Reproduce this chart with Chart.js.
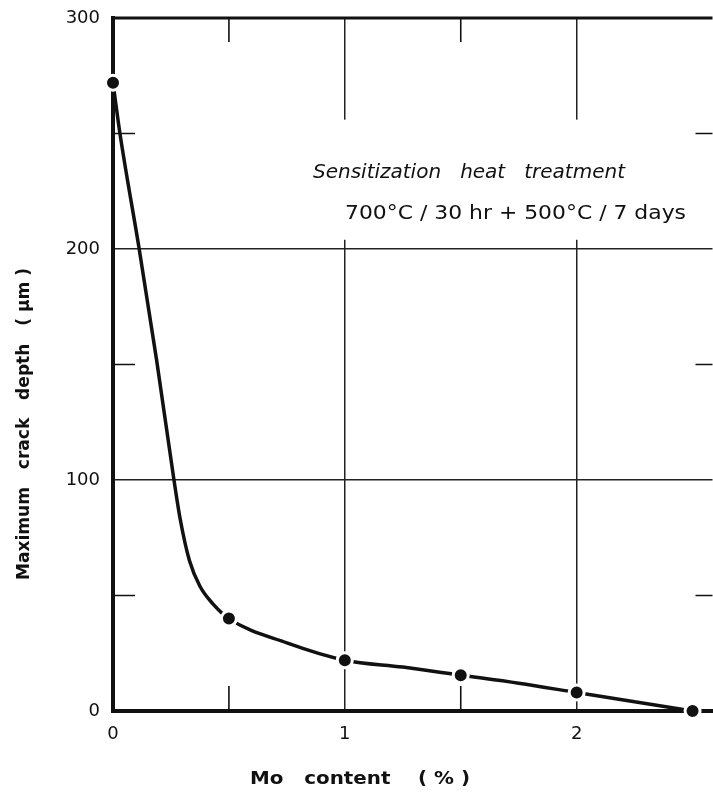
<!DOCTYPE html>
<html>
<head>
<meta charset="utf-8">
<script src="https://cdn.jsdelivr.net/npm/chart.js@4.4.0/dist/chart.umd.min.js"></script>
<style>
  html, body { margin: 0; padding: 0; background: #fff; overflow: hidden; }
  #grafica { display: block; width: 723px; height: 796px; }
</style>
</head>
<body>
<canvas id="grafica" width="723" height="796"></canvas>
<script>
// measured points (dots)
var moContent = [0, 0.5, 1.0, 1.5, 2.0, 2.5];
var crackDepth = [272, 40, 22, 15.5, 8, 0];

// the hand drawn curve
var curveMo = [0, 0.03, 0.113, 0.188, 0.263, 0.29, 0.33, 0.375, 0.43, 0.5, 0.75, 1.0, 1.25, 1.5, 1.75, 2.0, 2.25, 2.5];
var curveDepth = [272, 250, 200, 152, 100, 83, 65, 54, 46.5, 40, 29.5, 22, 19, 15.5, 12, 8, 4, 0];

var xTicks = [0, 1, 2];
var yTicks = [0, 100, 200, 300];
var xMinor = [0.5, 1.5];
var yMinor = [50, 150, 250];

var ink = '#111';
var tickFont = { family: "'DejaVu Sans'", size: 18 };

function pairs(xs, ys) {
    return xs.map(function (x, i) { return { x: x, y: ys[i] }; });
}

// draw a text stretched to a given width
function fitText(c, text, x, y, w) {
    var m = c.measureText(text).width;
    c.save();
    c.translate(x, y);
    c.scale(w / m, 1);
    c.fillText(text, 0, 0);
    c.restore();
}

function noPad(s) {
    s.paddingTop = 0; s.paddingBottom = 0;
    s.paddingLeft = 0; s.paddingRight = 0;
}

// frame, minor ticks, axis titles and the note
var decor = {
    id: 'decor',
    beforeDatasetsDraw: function (chart) {
        var c = chart.ctx, a = chart.chartArea;
        var sx = chart.scales.x, sy = chart.scales.y;
        c.save();
        // white patch behind the note (breaks the grid lines)
        c.fillStyle = '#fff';
        c.fillRect(320, sy.getPixelForValue(256), 290, sy.getPixelForValue(204) - sy.getPixelForValue(256));
        // top border
        c.strokeStyle = ink;
        c.lineWidth = 3;
        c.beginPath();
        c.moveTo(a.left - 2, a.top);
        c.lineTo(a.right, a.top);
        c.stroke();
        // minor ticks
        c.lineWidth = 1.6;
        c.beginPath();
        yMinor.forEach(function (v) {
            var py = sy.getPixelForValue(v);
            c.moveTo(a.left, py); c.lineTo(a.left + 22, py);
            c.moveTo(a.right, py); c.lineTo(a.right - 17, py);
        });
        xMinor.forEach(function (v) {
            var px = sx.getPixelForValue(v);
            c.moveTo(px, a.top); c.lineTo(px, a.top + 24);
            c.moveTo(px, a.bottom); c.lineTo(px, a.bottom - 25);
        });
        c.stroke();
        c.restore();
    },
    afterDraw: function (chart) {
        var c = chart.ctx;
        c.save();
        c.fillStyle = ink;
        c.textAlign = 'left';
        c.textBaseline = 'middle';
        c.font = "bold 17px 'DejaVu Sans'";
        fitText(c, 'Mo   content    ( % )', 250, 780, 220);
        c.save();
        c.translate(25, 580);
        c.rotate(-Math.PI / 2);
        fitText(c, 'Maximum   crack   depth   ( \u03bcm )', 0, 0, 312);
        c.restore();
        c.font = "oblique 20px 'DejaVu Sans'";
        fitText(c, 'Sensitization   heat   treatment', 313, 173, 312);
        c.font = "20px 'DejaVu Sans'";
        fitText(c, '700\u00b0C / 30 hr + 500\u00b0C / 7 days', 345, 214, 341);
        c.restore();
    }
};

var ctx = document.getElementById("grafica").getContext("2d");
var myChart = new Chart(ctx, {
    type: 'line',
    data: {
        datasets: [{
            label: 'measured',
            data: pairs(moContent, crackDepth),
            showLine: false,
            pointRadius: 7.5,
            pointHoverRadius: 7.5,
            pointBackgroundColor: ink,
            pointBorderColor: '#fff',
            pointBorderWidth: 3,
            clip: false,
            order: 0
        }, {
            label: 'curve',
            data: pairs(curveMo, curveDepth),
            borderColor: ink,
            borderWidth: 3.5,
            pointRadius: 0,
            cubicInterpolationMode: 'monotone',
            fill: false,
            clip: false,
            order: 1
        }]
    },
    options: {
        responsive: false,
        animation: false,
        devicePixelRatio: 1,
        events: [],
        layout: { padding: { top: 18, right: 0, left: 0, bottom: 0 } },
        plugins: {
            legend: { display: false },
            tooltip: { enabled: false }
        },
        scales: {
            x: {
                type: 'linear',
                min: 0,
                max: 2.586,
                afterFit: function (s) { s.height = 85; noPad(s); },
                afterBuildTicks: function (s) {
                    s.ticks = xTicks.map(function (v) { return { value: v }; });
                },
                ticks: {
                    color: ink,
                    font: tickFont,
                    padding: 13,
                    includeBounds: false,
                    maxRotation: 0
                },
                border: { display: true, color: ink, width: 4 },
                grid: {
                    drawTicks: false,
                    lineWidth: 1.5,
                    color: function (c) {
                        return (c.tick && c.tick.value > 0) ? '#222' : 'rgba(0,0,0,0)';
                    }
                }
            },
            y: {
                min: 0,
                max: 300,
                afterFit: function (s) { s.width = 113; noPad(s); },
                afterBuildTicks: function (s) {
                    s.ticks = yTicks.map(function (v) { return { value: v }; });
                },
                ticks: {
                    color: ink,
                    font: tickFont,
                    padding: 13
                },
                border: { display: true, color: ink, width: 4 },
                grid: {
                    drawTicks: false,
                    lineWidth: 1.5,
                    color: function (c) {
                        var v = c.tick ? c.tick.value : 0;
                        return (v > 0 && v < 300) ? '#222' : 'rgba(0,0,0,0)';
                    }
                }
            }
        }
    },
    plugins: [decor]
});
</script>
</body>
</html>
